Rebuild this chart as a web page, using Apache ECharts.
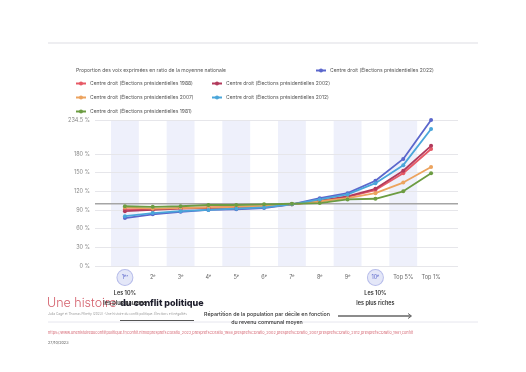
<!DOCTYPE html>
<html>
<head>
<meta charset="utf-8">
<script src="https://cdn.jsdelivr.net/npm/echarts@6/dist/echarts.min.js"></script>
<style>
  html, body { margin: 0; padding: 0; background: #fff; }
  #chart { width: 526px; height: 372px; }
</style>
</head>
<body>
<div id="chart"></div>
<script>
const categories = ["1ᵉʳ", "2ᵉ", "3ᵉ", "4ᵉ", "5ᵉ", "6ᵉ", "7ᵉ", "8ᵉ", "9ᵉ", "10ᵉ", "Top 5%", "Top 1%"];
const yTicks = [0, 30, 60, 90, 120, 150, 180, 234.5];
const refLine = [[0, 100], [1, 100]];

const names = [
  "Centre droit (Élections présidentielles 2022)",
  "Centre droit (Élections présidentielles 1988)",
  "Centre droit (Élections présidentielles 2002)",
  "Centre droit (Élections présidentielles 2007)",
  "Centre droit (Élections présidentielles 2012)",
  "Centre droit (Élections présidentielles 1981)",
];
const values2022 = [77, 83, 87, 90, 91, 93, 99, 109, 117, 137, 172, 234.5];
const values1988 = [91, 91, 93, 94, 95, 96, 99, 104, 111, 122, 149, 188];
const values2002 = [88, 90, 92, 93, 94, 95, 99, 105, 112, 124, 153, 193];
const values2007 = [94, 92, 93, 94, 95, 96, 99, 104, 109, 117, 134, 159];
const values2012 = [80, 85, 88, 90, 92, 94, 99, 107, 115, 133, 162, 220];
const values1981 = [96, 95, 96, 98, 98, 99, 100, 101, 107, 108, 120, 149];

const colors = ["#5b67cc", "#e65a66", "#b23a5c", "#eca35e", "#4aa6da", "#6c9c42"];
const allValues = [values2022, values1988, values2002, values2007, values2012, values1981];

// legend slots: [left, top]
const legendPos = [[310, 63], [70, 76], [206, 76], [70, 90], [206, 90], [70, 104]];

const highlighted = [0, 9];
const notes = { 0: ["Les 10%", "les plus pauvres"], 9: ["Les 10%", "les plus riches"] };

const font = "Inter, 'Noto Sans', sans-serif";

const chart = echarts.init(document.getElementById("chart"), null, { renderer: "canvas" });

const dataSeries = names.map((name, i) => ({
  name: name,
  type: "line",
  xAxisIndex: 0,
  yAxisIndex: 0,
  data: allValues[i],
  symbol: "circle",
  symbolSize: 4,
  color: colors[i],
  lineStyle: { width: 1.8 },
  z: 3,
  animation: false,
}));

chart.setOption({
  backgroundColor: "#fff",
  animation: false,
  textStyle: { fontFamily: font },
  title: {
    text: "Proportion des voix exprimées en ratio de la moyenne nationale",
    left: 71,
    top: 63,
    textStyle: { fontSize: 5, fontWeight: "normal", color: "#555", fontFamily: font },
  },
  legend: names.map((name, i) => ({
    data: [name],
    left: legendPos[i][0],
    top: legendPos[i][1],
    itemWidth: 10,
    itemHeight: 5,
    itemGap: 4,
    textStyle: { fontSize: 5, color: "#555", fontFamily: font, padding: [0, 0, 0, -1] },
  })),
  grid: [
    { left: 111, right: 81, top: 120, bottom: 106 },
    { left: 95, right: 68, top: 120, bottom: 106 },
  ],
  xAxis: [
    {
      type: "category",
      gridIndex: 0,
      data: categories,
      boundaryGap: true,
      axisLine: { show: false },
      axisTick: { show: false },
      splitLine: { show: false },
      splitArea: { show: true, areaStyle: { color: ["#eef0fb", "rgba(255,255,255,0)"] } },
      z: 0,
      axisLabel: {
        margin: 3,
        interval: 0,
        formatter: (value, idx) => {
          if (highlighted.includes(idx)) {
            const n = notes[idx];
            return `{c|${value}}\n{s| }\n{n|${n[0]}}\n{n|${n[1]}}`;
          }
          return `{p|${value}}`;
        },
        rich: {
          c: {
            width: 15, height: 15, lineHeight: 17, borderRadius: 8,
            backgroundColor: "#e4e7f8", borderColor: "#b6bcea", borderWidth: 1,
            align: "center", color: "#5b67cc", fontSize: 5.5, fontFamily: font,
          },
          p: { lineHeight: 17, height: 17, color: "#666", fontSize: 5.5, fontFamily: font },
          s: { lineHeight: 3, height: 3, fontSize: 3 },
          n: { lineHeight: 9.5, fontSize: 5.5, fontWeight: 600, color: "#333", fontFamily: font },
        },
      },
    },
    { type: "value", gridIndex: 1, min: 0, max: 1, show: false },
  ],
  yAxis: [
    { type: "value", gridIndex: 0, min: 0, max: 234.5, show: false, splitLine: { show: false } },
    {
      type: "value",
      gridIndex: 1,
      min: 0,
      max: 234.5,
      axisLine: { show: false },
      axisTick: { show: false },
      splitLine: { show: false },
      axisLabel: {
        customValues: yTicks,
        margin: 5,
        color: "#888",
        fontSize: 5.5,
        fontFamily: font,
        formatter: (v) => `${v} %`,
      },
    },
  ],
  series: [
    {
      name: "ref",
      type: "line",
      xAxisIndex: 1,
      yAxisIndex: 1,
      data: refLine,
      symbol: "none",
      silent: true,
      z: 1,
      lineStyle: { color: "#a5a5a5", width: 1.3 },
      markLine: {
        z: 1,
        silent: true,
        symbol: "none",
        animation: false,
        label: { show: false },
        lineStyle: { color: "#e6e6ea", width: 1, type: "solid" },
        data: yTicks.map((v) => ({ yAxis: v })),
      },
    },
    ...dataSeries,
  ],
  graphic: [
    { type: "line", shape: { x1: 48, y1: 43, x2: 478, y2: 43 }, style: { stroke: "#e8e8ec", lineWidth: 1.5 } },
    {
      type: "text", left: 47, top: 297,
      style: {
        text: "{a|Une histoire }{b|du conflit politique}",
        rich: {
          a: { fontSize: 12.5, fontWeight: 300, fill: "#d4606c", fontFamily: font },
          b: { fontSize: 9, fontWeight: 800, fill: "#1d1d2b", fontFamily: font },
        },
      },
    },
    {
      type: "text", left: 48, top: 313,
      style: {
        text: "Julia Cagé et Thomas Piketty (2023) · Une histoire du conflit politique. Élections et inégalités",
        width: 146, overflow: "truncate", ellipsis: "",
        fontSize: 3.2, fill: "#999", fontFamily: font,
      },
    },
    { type: "line", shape: { x1: 48, y1: 322, x2: 478, y2: 322 }, style: { stroke: "#e6e6ee", lineWidth: 1 } },
    { type: "line", shape: { x1: 120, y1: 320.5, x2: 194, y2: 320.5 }, style: { stroke: "#555", lineWidth: 1 } },
    {
      type: "text", x: 267, y: 310,
      style: {
        text: "Répartition de la population par décile en fonction\ndu revenu communal moyen",
        align: "center", fontSize: 5.3, lineHeight: 8, fill: "#333", fontWeight: 500, fontFamily: font,
      },
    },
    { type: "line", shape: { x1: 338, y1: 316, x2: 411, y2: 316 }, style: { stroke: "#666", lineWidth: 1.3 } },
    { type: "polyline", shape: { points: [[408, 313.5], [411.5, 316], [408, 318.5]] }, style: { stroke: "#666", lineWidth: 1, fill: null } },
    {
      type: "text", left: 48, top: 331,
      style: {
        text: "https://www.unehistoireduconflitpolitique.fr/conflit.html#presprefsCDratio_2022,presprefsCDratio_1988,presprefsCDratio_2002,presprefsCDratio_2007,presprefsCDratio_2012,presprefsCDratio_1981,conflit",
        fontSize: 3.8, fill: "#d66a76", fontFamily: font,
      },
    },
    { type: "text", left: 48, top: 341, style: { text: "27/10/2023", fontSize: 3.8, fill: "#555", fontFamily: font } },
  ],
});
</script>
</body>
</html>
